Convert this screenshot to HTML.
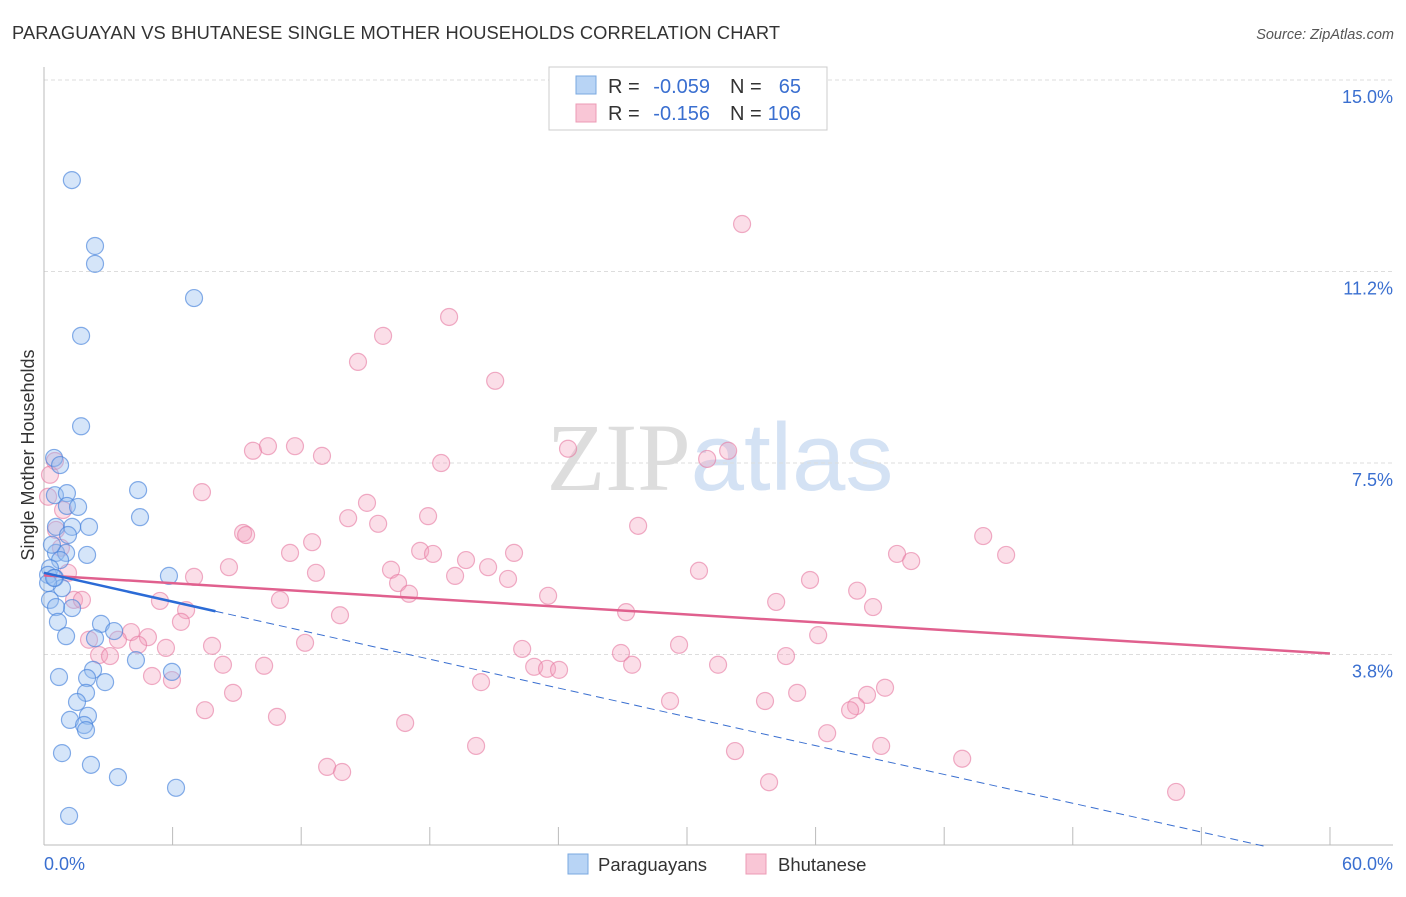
<!DOCTYPE html>
<html><head><meta charset="utf-8"><style>
body{margin:0;background:#fff;font-family:"Liberation Sans",sans-serif}
svg text{font-family:"Liberation Sans",sans-serif}
</style></head><body>
<svg id="chart" width="1406" height="892" viewBox="0 0 1406 892">
<text x="12" y="39" font-size="18.3" fill="#333" textLength="768">PARAGUAYAN VS BHUTANESE SINGLE MOTHER HOUSEHOLDS CORRELATION CHART</text>
<text x="1394" y="39" font-size="14.5" fill="#555" text-anchor="end" font-style="italic">Source: ZipAtlas.com</text>
<text x="720" y="490" font-size="96" text-anchor="middle"><tspan fill="#ddd" font-family="Liberation Serif">ZIP</tspan><tspan fill="#d4e2f4">atlas</tspan></text>
<g id="grid"></g><g id="axes"></g><g id="pts"></g><g id="trends"></g>
<text transform="translate(34,455) rotate(-90)" font-size="18" fill="#333" text-anchor="middle">Single Mother Households</text>
<g font-size="20">
<rect x="549" y="67" width="278" height="63" fill="#fff" stroke="#ccc"/>
<rect x="576" y="76" width="20" height="18" fill="#b8d4f5" stroke="#7aa8e0"/>
<rect x="576" y="104" width="20" height="18" fill="#f9c6d6" stroke="#ec9bb5"/>
<text x="608" y="93" fill="#333">R =</text>
<text x="710" y="93" fill="#3a6fd0" text-anchor="end">-0.059</text>
<text x="730" y="93" fill="#333">N =</text>
<text x="801" y="93" fill="#3a6fd0" text-anchor="end">65</text>
<text x="608" y="120" fill="#333">R =</text>
<text x="710" y="120" fill="#3a6fd0" text-anchor="end">-0.156</text>
<text x="730" y="120" fill="#333">N =</text>
<text x="801" y="120" fill="#3a6fd0" text-anchor="end">106</text>
</g>
<g>
<rect x="568" y="854" width="20" height="20" fill="#b8d4f5" stroke="#7aa8e0"/>
<text x="598" y="871" font-size="18.5" fill="#333">Paraguayans</text>
<rect x="746" y="854" width="20" height="20" fill="#f9c6d6" stroke="#ec9bb5"/>
<text x="778" y="871" font-size="18.5" fill="#333">Bhutanese</text>
</g>
</svg>
<script>
const yTicks=[15,11.25,7.5,3.75];
const yTickLabels=["15.0%","11.2%","7.5%","3.8%"];
const xTicks=[0,6,12,18,24,30,36,42,48,54,60];
const xEndLabels=["0.0%","60.0%"];
const blueX=[1.3,2.38,2.38,7.0,1.73,1.73,0.47,0.75,4.39,0.51,1.07,1.07,1.59,4.48,2.1,0.56,1.31,1.12,0.56,1.03,2.01,0.75,0.28,0.19,5.83,0.51,0.84,0.28,1.31,0.56,0.65,2.66,3.27,2.38,1.03,4.29,5.97,2.29,0.7,2.01,1.96,2.85,1.54,1.21,2.05,1.87,1.96,0.84,2.19,3.45,6.16,1.17,0.19,0.37,0.47];
const blueY=[13.04,11.75,11.4,10.73,9.99,8.22,7.6,7.46,6.97,6.87,6.91,6.66,6.64,6.44,6.25,6.25,6.25,6.09,5.74,5.74,5.7,5.6,5.44,5.31,5.29,5.25,5.05,4.82,4.66,4.68,4.39,4.35,4.21,4.07,4.11,3.64,3.41,3.45,3.31,3.29,3.0,3.21,2.82,2.47,2.55,2.37,2.27,1.82,1.59,1.35,1.14,0.59,5.15,5.9,5.25];
const pinkX=[32.57,18.9,15.82,14.65,21.05,9.75,10.45,11.71,12.97,18.53,24.45,30.94,31.92,7.37,15.07,14.19,17.92,15.59,9.29,9.43,27.72,12.51,11.48,17.55,18.15,19.69,21.93,39.8,43.82,44.89,40.46,8.63,12.69,16.19,19.18,20.72,21.65,30.56,35.74,16.52,7.0,17.03,23.52,11.01,5.41,34.16,37.94,38.68,6.63,27.16,13.81,6.39,4.06,4.85,3.45,2.1,4.39,2.57,3.08,7.84,12.18,5.69,22.31,26.92,29.63,36.12,8.35,10.27,22.87,23.47,24.03,27.44,31.45,34.62,5.04,5.97,20.39,8.82,29.21,35.14,33.64,39.24,38.4,37.89,37.61,7.51,10.87,16.85,36.54,20.16,39.06,32.24,42.84,13.21,13.91,33.83,52.82,0.51,0.28,0.19,0.89,0.56,0.79,1.12,1.4,1.77];
const pinkY=[12.18,10.36,9.99,9.48,9.11,7.74,7.83,7.83,7.64,7.5,7.78,7.58,7.74,6.93,6.72,6.42,6.46,6.31,6.13,6.09,6.27,5.95,5.74,5.78,5.72,5.6,5.74,5.72,6.07,5.7,5.58,5.46,5.35,5.41,5.29,5.46,5.23,5.39,5.21,5.15,5.27,4.94,4.9,4.82,4.8,4.78,5.0,4.68,4.62,4.58,4.52,4.39,4.19,4.09,4.04,4.04,3.94,3.74,3.72,3.92,3.98,3.88,3.86,3.78,3.94,4.13,3.55,3.53,3.51,3.47,3.45,3.55,3.55,3.72,3.33,3.25,3.21,3.0,2.84,3.0,2.84,3.1,2.96,2.74,2.66,2.66,2.53,2.41,2.21,1.96,1.96,1.86,1.71,1.55,1.45,1.25,1.06,7.54,7.27,6.84,6.58,6.19,5.84,5.35,4.82,4.82];
const blueTrend=[5.35,-0.094];
const pinkTrend=[5.3,-0.0255];
const NS="http://www.w3.org/2000/svg";
const X=v=>44+v*21.433, Y=v=>80+(15-v)*51.07;
function mk(t,a,p){const e=document.createElementNS(NS,t);for(const k in a)e.setAttribute(k,a[k]);p.appendChild(e);return e;}
const grid=document.getElementById('grid'),axes=document.getElementById('axes'),pts=document.getElementById('pts'),tr=document.getElementById('trends');
yTicks.forEach((v,i)=>{const l=mk('line',{x1:44,x2:1393,y1:Y(v),y2:Y(v),stroke:'#ddd','stroke-dasharray':'4,3'},grid);

const t=mk('text',{x:1393,y:Y(v)+23,'font-size':18,fill:'#3a6fd0','text-anchor':'end'},grid);t.textContent=yTickLabels[i];
});
const ax=mk('line',{x1:44,x2:1393,y1:845,y2:845,stroke:'#bbb'},axes);
const ay=mk('line',{x1:44,x2:44,y1:67,y2:845,stroke:'#bbb'},axes);
xTicks.slice(1).forEach(v=>{const t=mk('line',{x1:X(v),x2:X(v),y1:827,y2:845,stroke:'#bbb'},axes);});
const l0=mk('text',{x:44,y:870,'font-size':18,fill:'#3a6fd0'},axes);l0.textContent=xEndLabels[0];
const l1=mk('text',{x:1393,y:870,'font-size':18,fill:'#3a6fd0','text-anchor':'end'},axes);l1.textContent=xEndLabels[1];
pinkX.forEach((v,i)=>{const c=mk('circle',{cx:X(v),cy:Y(pinkY[i]),r:8.5,fill:'rgba(244,160,190,0.35)',stroke:'rgba(230,120,160,0.6)','stroke-width':1.2},pts);
});
blueX.forEach((v,i)=>{const c=mk('circle',{cx:X(v),cy:Y(blueY[i]),r:8.5,fill:'rgba(150,190,240,0.4)',stroke:'rgba(70,130,220,0.65)','stroke-width':1.2},pts);
});
const bf=x=>blueTrend[0]+blueTrend[1]*x, pf=x=>pinkTrend[0]+pinkTrend[1]*x;
const p1=mk('line',{x1:X(0),y1:Y(pf(0)),x2:X(60),y2:Y(pf(60)),stroke:'#e0608e','stroke-width':2.5},tr);
const b2=mk('line',{x1:X(8),y1:Y(bf(8)),x2:X(57),y2:Y(bf(57)),stroke:'#3a6fd0','stroke-width':1,'stroke-dasharray':'8,5'},tr);
const b1=mk('line',{x1:X(0),y1:Y(bf(0)),x2:X(8),y2:Y(bf(8)),stroke:'#2b6bd6','stroke-width':2.5},tr);
</script>
</body></html>
